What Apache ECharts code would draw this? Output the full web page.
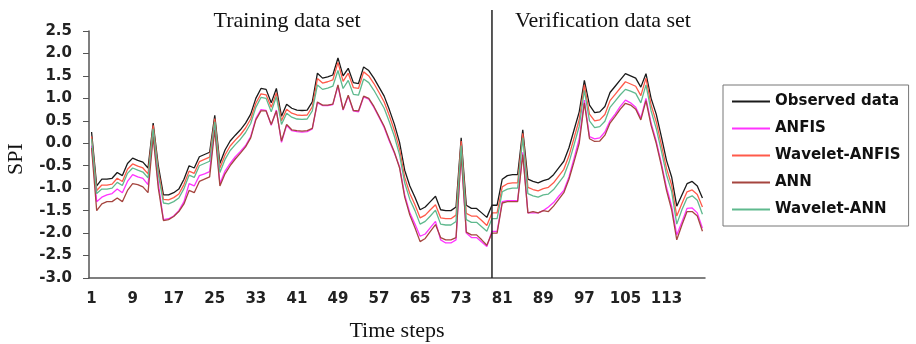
<!DOCTYPE html>
<html><head><meta charset="utf-8">
<script src="https://cdn.jsdelivr.net/npm/echarts@6/dist/echarts.min.js"></script>
<style>html,body{margin:0;padding:0;background:#fff}#c{width:916px;height:344px}</style>
</head><body><div id="c"></div>
<script>
// Time steps 1..120
const timeSteps = [];
for (let i = 1; i <= 120; i++) timeSteps.push(String(i));

const yTicks = { min: -3.0, max: 2.5, step: 0.5 };
const dividerStep = '79';

const observed = [
 0.25,-0.95,-0.80,-0.80,-0.78,-0.65,-0.72,-0.45,-0.33,-0.38,
-0.42,-0.55, 0.45,-0.50,-1.15,-1.15,-1.10,-1.02,-0.80,-0.50,
-0.55,-0.30,-0.25,-0.20, 0.62,-0.45,-0.15, 0.05, 0.18, 0.30,
 0.45, 0.65, 1.00, 1.22, 1.20, 0.90, 1.22, 0.60, 0.87, 0.78,
 0.74, 0.73, 0.74, 0.92, 1.56, 1.45, 1.48, 1.52, 1.90, 1.50,
 1.67, 1.35, 1.33, 1.70, 1.62, 1.45, 1.25, 1.05, 0.75, 0.42,
 0.02,-0.60,-0.95,-1.20,-1.48,-1.42,-1.30,-1.18,-1.48,-1.50,
-1.50,-1.42, 0.12,-1.38,-1.45,-1.45,-1.55,-1.65,-1.38,-1.38,
-0.80,-0.72,-0.70,-0.70, 0.30,-0.80,-0.85,-0.88,-0.83,-0.80,
-0.70,-0.55,-0.40,-0.10, 0.30, 0.70, 1.40, 0.85, 0.68, 0.70,
 0.82, 1.13, 1.27, 1.41, 1.55, 1.50, 1.45, 1.25, 1.55, 1.00,
 0.65, 0.15,-0.38,-0.75,-1.40,-1.15,-0.90,-0.85,-0.95,-1.22
];

const anfis = [
-0.05,-1.30,-1.20,-1.15,-1.12,-1.02,-1.10,-0.85,-0.70,-0.75,
-0.78,-0.92, 0.20,-0.90,-1.70,-1.68,-1.62,-1.50,-1.30,-0.90,
-0.95,-0.72,-0.68,-0.63, 0.40,-0.90,-0.62,-0.45,-0.30,-0.18,
-0.05, 0.15, 0.55, 0.75, 0.73, 0.40, 0.74, 0.02, 0.40, 0.28,
 0.26, 0.25, 0.26, 0.32, 0.90, 0.84, 0.84, 0.86, 1.28, 0.74,
 1.05, 0.72, 0.70, 1.03, 0.98, 0.80, 0.58, 0.35, 0.05,-0.22,
-0.52,-1.15,-1.55,-1.80,-2.07,-2.02,-1.88,-1.74,-2.15,-2.22,
-2.22,-2.15,-0.20,-2.00,-2.10,-2.10,-2.20,-2.30,-1.96,-1.96,
-1.30,-1.28,-1.28,-1.28,-0.20,-1.55,-1.55,-1.55,-1.50,-1.42,
-1.32,-1.18,-1.05,-0.75,-0.33, 0.10, 0.96, 0.15, 0.10, 0.12,
 0.25, 0.50, 0.65, 0.82, 0.96, 0.90, 0.80, 0.56, 1.00, 0.45,
 0.05,-0.45,-0.98,-1.40,-2.04,-1.75,-1.45,-1.44,-1.55,-1.89
];

const waveletAnfis = [
 0.15,-1.05,-0.93,-0.93,-0.91,-0.78,-0.85,-0.58,-0.46,-0.51,
-0.55,-0.68, 0.40,-0.60,-1.25,-1.26,-1.21,-1.13,-0.92,-0.62,
-0.67,-0.41,-0.36,-0.31, 0.55,-0.55,-0.26,-0.06, 0.07, 0.19,
 0.34, 0.54, 0.89, 1.10, 1.08, 0.80, 1.12, 0.50, 0.76, 0.67,
 0.63, 0.62, 0.63, 0.81, 1.44, 1.34, 1.37, 1.41, 1.80, 1.38,
 1.56, 1.24, 1.22, 1.59, 1.50, 1.33, 1.13, 0.92, 0.62, 0.28,
-0.13,-0.76,-1.12,-1.37,-1.66,-1.60,-1.48,-1.37,-1.66,-1.68,
-1.68,-1.60, 0.05,-1.56,-1.62,-1.62,-1.72,-1.83,-1.55,-1.55,
-0.97,-0.90,-0.88,-0.88, 0.22,-0.98,-1.03,-1.06,-1.01,-0.98,
-0.88,-0.73,-0.58,-0.28, 0.12, 0.53, 1.30, 0.65, 0.50, 0.52,
 0.64, 0.95, 1.09, 1.23, 1.37, 1.32, 1.27, 1.06, 1.45, 0.85,
 0.48,-0.03,-0.56,-0.93,-1.62,-1.34,-1.08,-1.04,-1.14,-1.42
];

const ann = [
-0.10,-1.50,-1.35,-1.30,-1.30,-1.22,-1.30,-1.05,-0.90,-0.92,
-0.97,-1.10, 0.15,-1.00,-1.72,-1.70,-1.63,-1.52,-1.35,-1.05,
-1.10,-0.85,-0.80,-0.75, 0.30,-0.95,-0.68,-0.50,-0.35,-0.22,
-0.08, 0.12, 0.52, 0.72, 0.72, 0.42, 0.72, 0.05, 0.42, 0.30,
 0.28, 0.27, 0.28, 0.33, 0.92, 0.85, 0.85, 0.87, 1.30, 0.75,
 1.07, 0.73, 0.72, 1.05, 1.00, 0.82, 0.60, 0.38, 0.08,-0.20,
-0.55,-1.20,-1.60,-1.88,-2.19,-2.12,-1.96,-1.81,-2.10,-2.15,
-2.15,-2.10,-0.25,-1.98,-2.04,-2.04,-2.15,-2.27,-2.00,-2.00,
-1.33,-1.30,-1.30,-1.30,-0.25,-1.55,-1.52,-1.55,-1.50,-1.52,
-1.40,-1.25,-1.10,-0.80,-0.41, 0.00, 0.90, 0.10, 0.04, 0.05,
 0.18, 0.45, 0.60, 0.76, 0.89, 0.85, 0.76, 0.52, 0.95, 0.40,
 0.00,-0.50,-1.05,-1.48,-2.15,-1.82,-1.52,-1.52,-1.62,-1.96
];

const waveletAnn = [
 0.10,-1.12,-1.02,-1.02,-1.00,-0.87,-0.94,-0.67,-0.55,-0.60,
-0.64,-0.77, 0.32,-0.68,-1.33,-1.35,-1.30,-1.22,-1.01,-0.71,
-0.76,-0.50,-0.45,-0.40, 0.48,-0.65,-0.36,-0.16,-0.03, 0.09,
 0.24, 0.44, 0.80, 1.02, 1.00, 0.70, 1.04, 0.42, 0.67, 0.58,
 0.54, 0.53, 0.54, 0.72, 1.30, 1.20, 1.23, 1.27, 1.62, 1.22,
 1.40, 1.09, 1.07, 1.43, 1.35, 1.18, 0.98, 0.78, 0.48, 0.15,
-0.26,-0.88,-1.25,-1.50,-1.80,-1.74,-1.62,-1.49,-1.80,-1.82,
-1.82,-1.74,-0.05,-1.70,-1.76,-1.76,-1.86,-1.96,-1.68,-1.68,
-1.08,-1.02,-1.00,-1.00, 0.12,-1.12,-1.17,-1.20,-1.15,-1.13,
-1.03,-0.88,-0.73,-0.43,-0.03, 0.38, 1.18, 0.50, 0.35, 0.37,
 0.49, 0.80, 0.94, 1.08, 1.20, 1.16, 1.11, 0.90, 1.30, 0.72,
 0.33,-0.17,-0.70,-1.07,-1.80,-1.48,-1.22,-1.17,-1.27,-1.58
];

const seriesNames = ['Observed data', 'ANFIS', 'Wavelet-ANFIS', 'ANN', 'Wavelet-ANN'];
const seriesData = [observed, anfis, waveletAnfis, ann, waveletAnn];
const seriesColors = ['#1a1a1a', '#ff33ff', '#ff5a4a', '#a5453f', '#5fb98e'];

const chart = echarts.init(document.getElementById('c'), null, { renderer: 'canvas' });

const tickFont = { fontFamily: 'DejaVu Sans', fontWeight: 'bold', fontSize: 15, color: '#222' };
const serifFont = { fontFamily: 'Liberation Serif', fontWeight: 'normal', fontSize: 22, color: '#111' };

chart.setOption({
  animation: false,
  backgroundColor: '#fff',
  grid: { left: 89, top: 31, width: 616, height: 247, containLabel: false },
  title: [
    { text: 'Training data set', left: 287, top: 10, padding: 0, textAlign: 'center', textStyle: serifFont },
    { text: 'Verification data set', left: 603, top: 10, padding: 0, textAlign: 'center', textStyle: serifFont },
    { text: 'Time steps', left: 397, top: 320, padding: 0, textAlign: 'center', textStyle: serifFont }
  ],
  legend: {
    orient: 'vertical', left: 723, top: 85,
    padding: [9, 8, 9, 9], itemGap: 12, itemWidth: 38, itemHeight: 2, icon: 'rect',
    borderColor: '#777', borderWidth: 1,
    data: seriesNames,
    textStyle: { fontFamily: 'DejaVu Sans', fontWeight: 'bold', fontSize: 15, color: '#111' }
  },
  xAxis: {
    type: 'category', data: timeSteps, boundaryGap: true,
    axisLine: { onZero: false, lineStyle: { color: '#555', width: 1.5 } },
    axisTick: { interval: 0, length: 5, lineStyle: { color: '#555' } },
    axisLabel: Object.assign({ interval: 7, margin: 14 }, tickFont),
    splitLine: { show: false }
  },
  yAxis: {
    type: 'value', min: yTicks.min, max: yTicks.max, interval: yTicks.step,
    axisLine: { show: true, onZero: false, lineStyle: { color: '#555', width: 1.5 } },
    axisTick: { show: true, length: 6, lineStyle: { color: '#555' } },
    axisLabel: Object.assign({ margin: 17, formatter: v => v.toFixed(1) }, tickFont),
    splitLine: { show: false }
  },
  series: seriesNames.map((name, i) => ({
    name, type: 'line', data: seriesData[i], symbol: 'none',
    lineStyle: { width: 1.3, color: seriesColors[i] },
    itemStyle: { color: seriesColors[i] }
  }))
});

const dx = chart.convertToPixel({ xAxisIndex: 0 }, dividerStep);
const yBottom = chart.convertToPixel({ yAxisIndex: 0 }, yTicks.min);
chart.setOption({
  graphic: [
    { type: 'line', shape: { x1: dx, y1: 10, x2: dx, y2: yBottom }, style: { stroke: '#222', lineWidth: 1.5 }, z: 10 },
    { type: 'text', x: 16, y: 159, rotation: Math.PI / 2,
      style: { text: 'SPI', font: 'normal 22px "Liberation Serif"', fill: '#111', textAlign: 'center', textVerticalAlign: 'middle' } }
  ]
});
</script></body></html>
